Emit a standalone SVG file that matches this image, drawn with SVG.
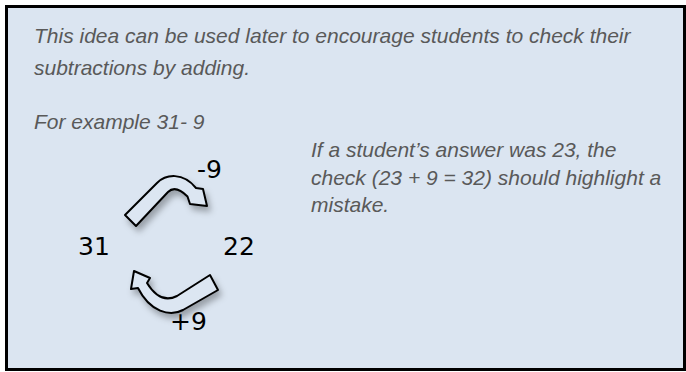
<svg xmlns="http://www.w3.org/2000/svg" width="686" height="372" viewBox="0 0 686 372">
<defs>
<filter id="sh" x="-30%" y="-30%" width="160%" height="160%">
<feDropShadow dx="3" dy="5" stdDeviation="3" flood-color="#000" flood-opacity="0.3"/>
</filter>
<style>
.t{font-family:"Liberation Sans",Arial,sans-serif;font-style:italic;font-size:21px;fill:#595959}
.n{font-family:"DejaVu Sans","Noto Sans",sans-serif;font-size:25px;fill:#000}
.ar{fill:#dce6f2;stroke:#000;stroke-width:2;stroke-linejoin:round;filter:url(#sh)}
</style>
</defs>
<rect x="6.5" y="6.5" width="678" height="363" fill="#dbe5f1" stroke="#000" stroke-width="3"/>
<g id="text-intro">
<text class="t" x="34" y="43">This idea can be used later to encourage students to check their</text>
<text class="t" x="34" y="75">subtractions by adding.</text>
<text class="t" x="34" y="129">For example 31- 9</text>
</g>
<g id="text-check">
<text class="t" x="311" y="157">If a student’s answer was 23, the</text>
<text class="t" x="311" y="185">check (23 + 9 = 32) should highlight a</text>
<text class="t" x="311" y="212">mistake.</text>
</g>
<g id="node-31"><text class="n" x="78" y="255">31</text></g>
<g id="node-22"><text class="n" x="223" y="255">22</text></g>
<g id="connectors">
<g id="arrow-minus9">
<path class="ar" d="M125,215 L157,183 C166,174 183,172 196,188 L203,189 L207,206 L190,204 L187.5,196.5 C181,190 174,186 168,192 L136,226 Z"/>
<text class="n" x="197" y="178">-9</text>
</g>
<g id="arrow-plus9">
<path class="ar" d="M218,290 L183,310 C170,317 150,312 138,288 L131,289 L134,271 L150,278 L147,283 C155,296 165,302 177,296 L210,275 Z"/>
<text class="n" x="170" y="330">+9</text>
</g>
</g>
</svg>
